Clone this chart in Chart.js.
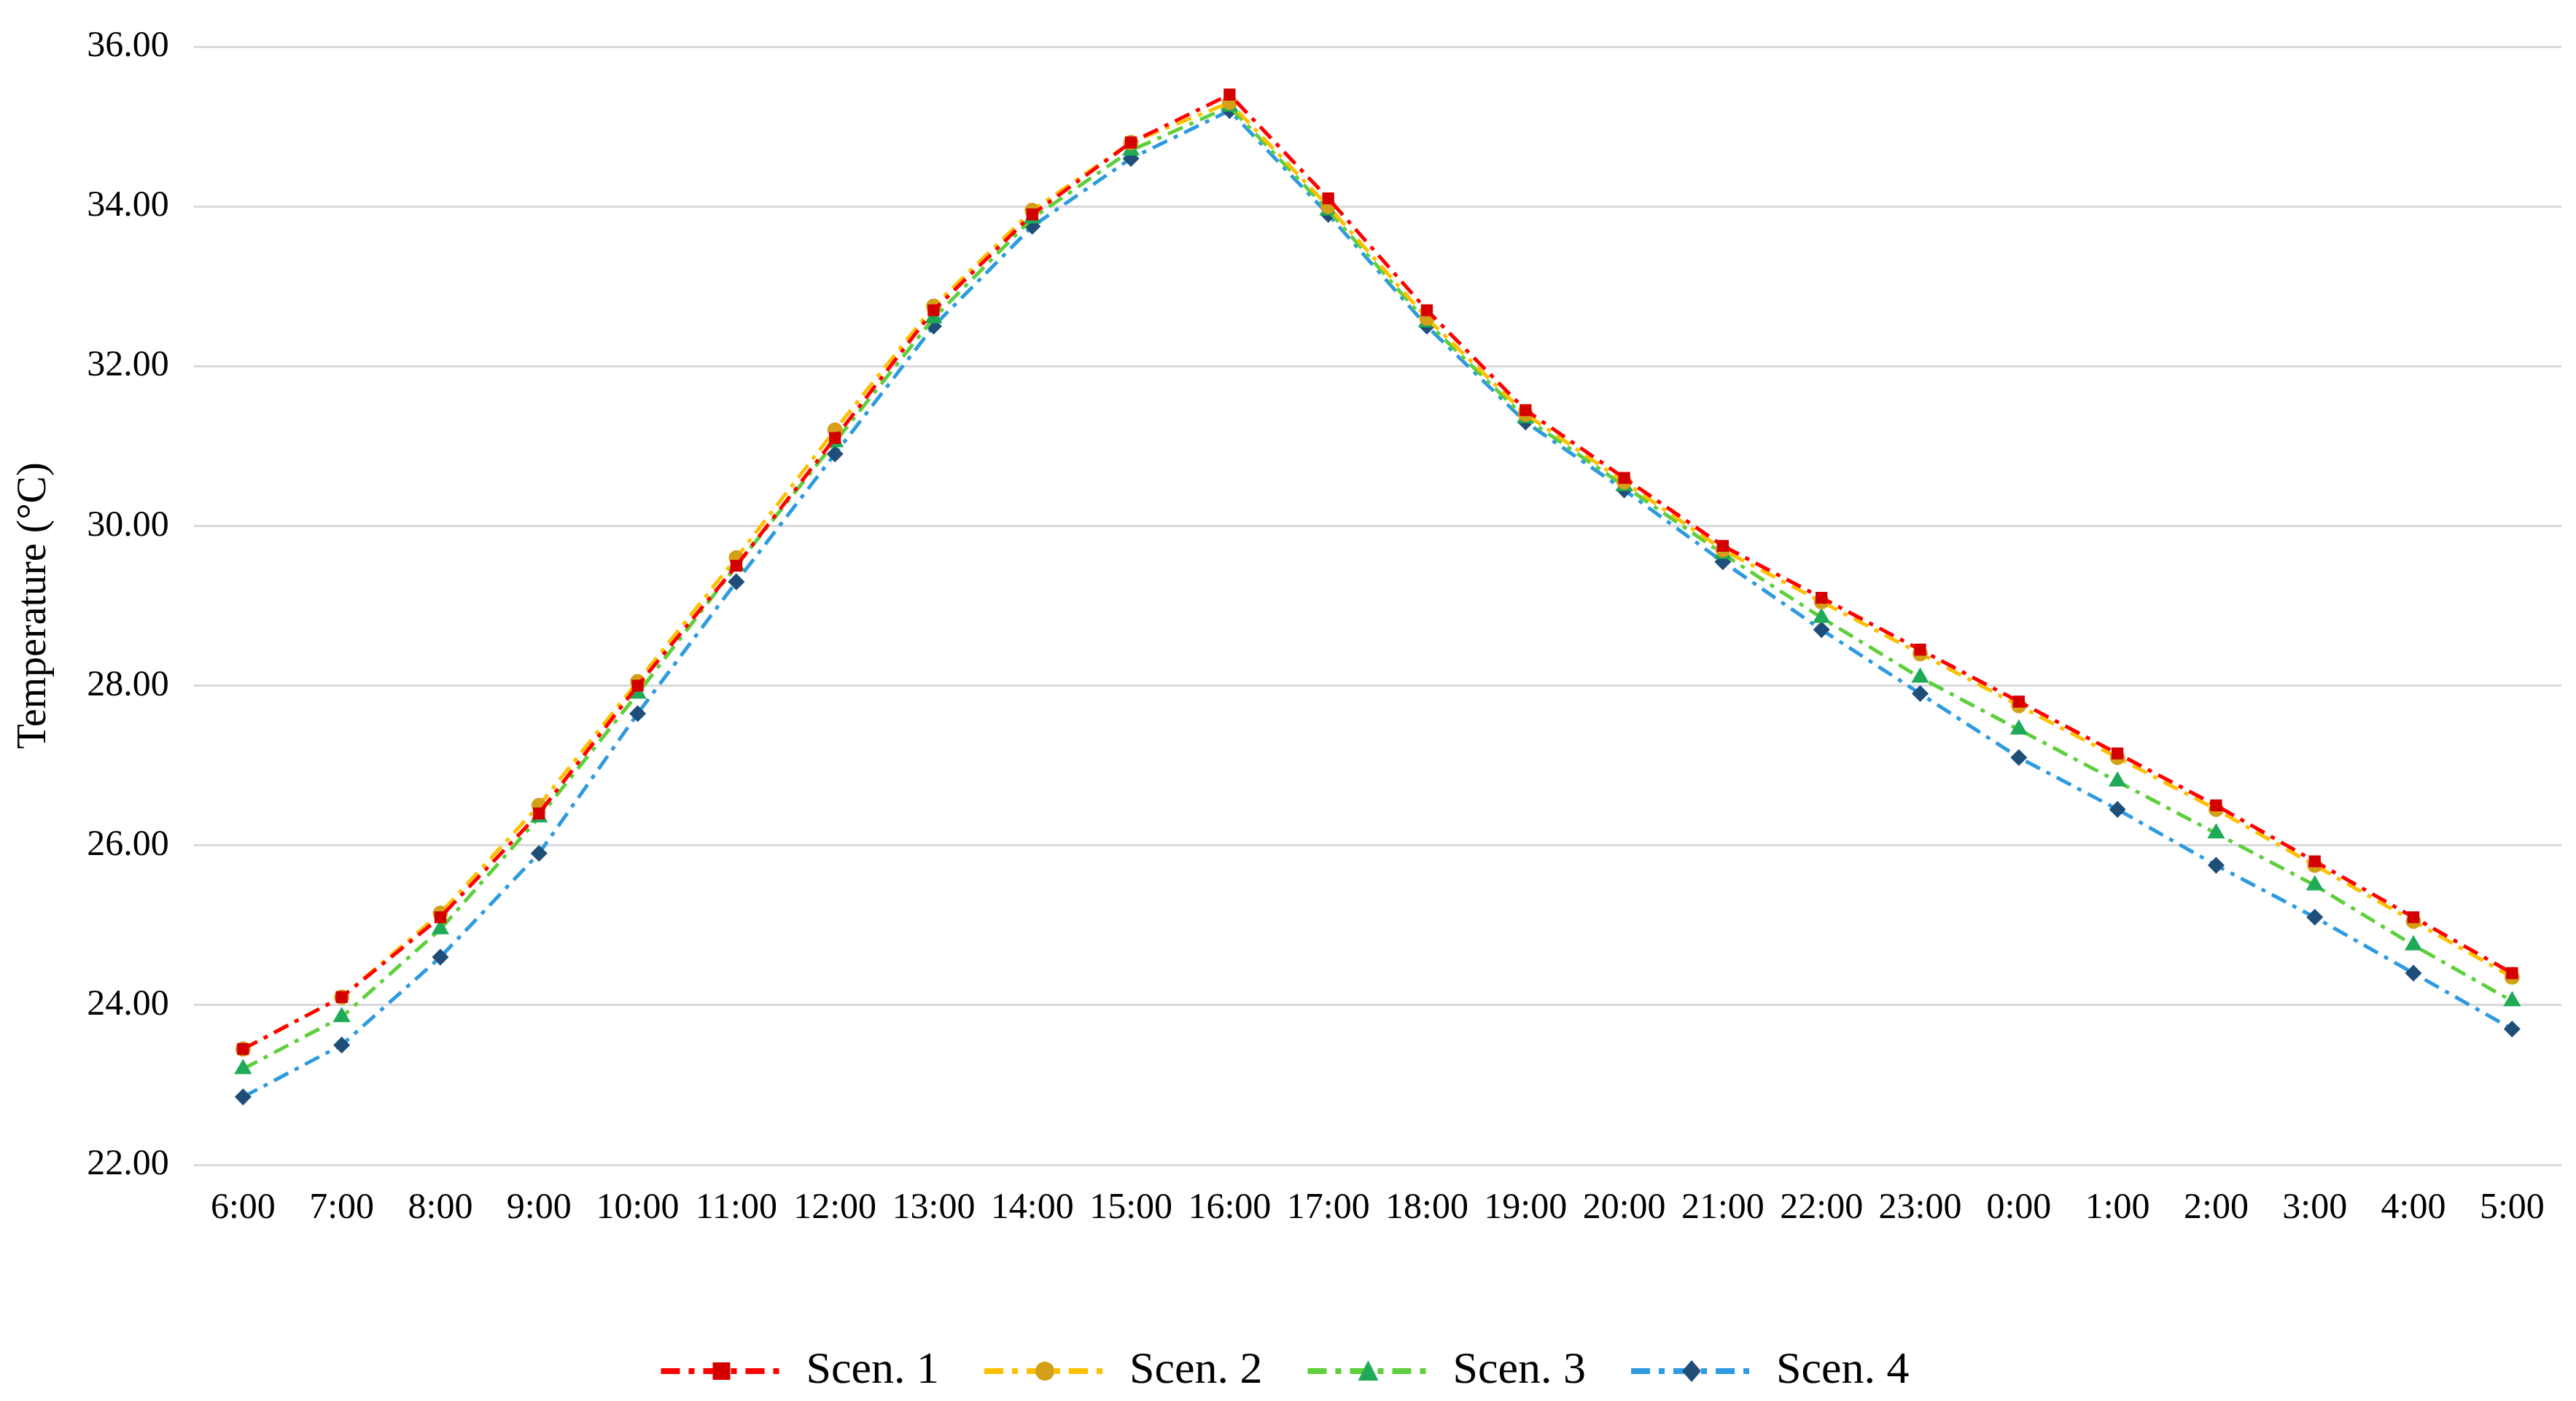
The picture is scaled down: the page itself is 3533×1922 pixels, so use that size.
<!DOCTYPE html>
<html>
<head>
<meta charset="utf-8">
<script src="https://cdn.jsdelivr.net/npm/chart.js@4"></script>
<style>
  html, body { margin: 0; padding: 0; background: #fff; }
  #wrap { width: 3533px; height: 1922px; }
</style>
</head>
<body>
<div id="wrap"><canvas id="chart"></canvas></div>
<script>
const hours = ['6:00','7:00','8:00','9:00','10:00','11:00','12:00','13:00','14:00','15:00','16:00','17:00',
  '18:00','19:00','20:00','21:00','22:00','23:00','0:00','1:00','2:00','3:00','4:00','5:00'];
const scen1 = [23.45,24.10,25.10,26.40,28.00,29.50,31.10,32.70,33.90,34.80,35.40,34.10,32.70,31.45,30.60,29.75,29.10,28.45,27.80,27.15,26.50,25.80,25.10,24.40];
const scen2 = [23.45,24.10,25.15,26.50,28.05,29.60,31.20,32.75,33.95,34.80,35.30,34.00,32.60,31.40,30.55,29.70,29.05,28.40,27.75,27.10,26.45,25.75,25.05,24.35];
const scen3 = [23.20,23.85,24.95,26.35,27.90,29.50,31.05,32.60,33.85,34.70,35.25,33.95,32.55,31.35,30.50,29.65,28.85,28.10,27.45,26.80,26.15,25.50,24.75,24.05];
const scen4 = [22.85,23.50,24.60,25.90,27.65,29.30,30.90,32.50,33.75,34.60,35.20,33.90,32.50,31.30,30.45,29.55,28.70,27.90,27.10,26.45,25.75,25.10,24.40,23.70];

const dash = [22, 10, 6, 10];
const fontFam = '"Liberation Serif", "Times New Roman", serif';

// legend sample: dash-dot line with the marker in the middle
function legendIcon(lineColor, markColor, shape) {
  const c = document.createElement('canvas');
  c.width = 170; c.height = 40;
  const g = c.getContext('2d');
  g.strokeStyle = lineColor; g.lineWidth = 8; g.setLineDash([26, 12, 8, 12]);
  g.beginPath(); g.moveTo(2, 20); g.lineTo(168, 20); g.stroke();
  g.fillStyle = markColor;
  g.beginPath();
  if (shape === 'rect') g.rect(73, 8, 24, 24);
  else if (shape === 'circle') g.arc(85, 20, 13, 0, Math.PI * 2);
  else if (shape === 'triangle') { g.moveTo(85, 5); g.lineTo(99, 33); g.lineTo(71, 33); g.closePath(); }
  else { g.moveTo(85, 5); g.lineTo(98, 20); g.lineTo(85, 35); g.lineTo(72, 20); g.closePath(); }
  g.fill();
  return c;
}

function series(label, data, lineColor, markColor, shape, radius) {
  return {
    label, data,
    borderColor: lineColor,
    backgroundColor: markColor,
    pointBackgroundColor: markColor,
    pointBorderColor: markColor,
    pointStyle: shape,
    pointRadius: radius,
    borderWidth: 5,
    borderDash: dash,
    fill: false,
    tension: 0,
    legendIcon: legendIcon(lineColor, markColor, shape === 'rectRot' ? 'diamond' : shape)
  };
}

const ctx = document.getElementById('chart').getContext('2d');
new Chart(ctx, {
  type: 'line',
  data: {
    labels: hours,
    datasets: [
      series('Scen. 1', scen1, '#ff0000', '#d40000', 'rect', 8),
      series('Scen. 2', scen2, '#ffc000', '#d4a017', 'circle', 8),
      series('Scen. 3', scen3, '#5fcf3c', '#1faa58', 'triangle', 9),
      series('Scen. 4', scen4, '#2e9be0', '#1f4e79', 'rectRot', 8)
    ]
  },
  options: {
    responsive: true,
    maintainAspectRatio: false,
    animation: false,
    layout: { padding: { left: 10, right: 20, top: 10, bottom: 0 } },
    plugins: {
      tooltip: { enabled: false },
      legend: {
        position: 'bottom',
        labels: {
          color: '#000',
          font: { family: fontFam, size: 62 },
          usePointStyle: true,
          pointStyleWidth: 170,
          boxHeight: 40,
          padding: 60,
          generateLabels(chart) {
            return chart.data.datasets.map((d, i) => ({
              text: d.label,
              pointStyle: d.legendIcon,
              fillStyle: d.borderColor,
              strokeStyle: d.borderColor,
              lineWidth: 0,
              datasetIndex: i,
              fontColor: '#000'
            }));
          }
        }
      }
    },
    scales: {
      x: {
        offset: true,
        grid: { display: false },
        border: { display: false },
        ticks: { color: '#000', font: { family: fontFam, size: 50 }, maxRotation: 0, autoSkip: false, padding: 22 },
        afterFit(s) { s.height += 80; }
      },
      y: {
        min: 22, max: 36,
        grid: { color: '#d9d9d9', lineWidth: 3, drawTicks: false },
        border: { display: false },
        ticks: { stepSize: 2, color: '#000', font: { family: fontFam, size: 50 }, padding: 34,
                 callback: v => v.toFixed(2) },
        title: { display: true, text: 'Temperature (°C)', color: '#000', font: { family: fontFam, size: 56 } }
      }
    }
  }
});
</script>
</body>
</html>
